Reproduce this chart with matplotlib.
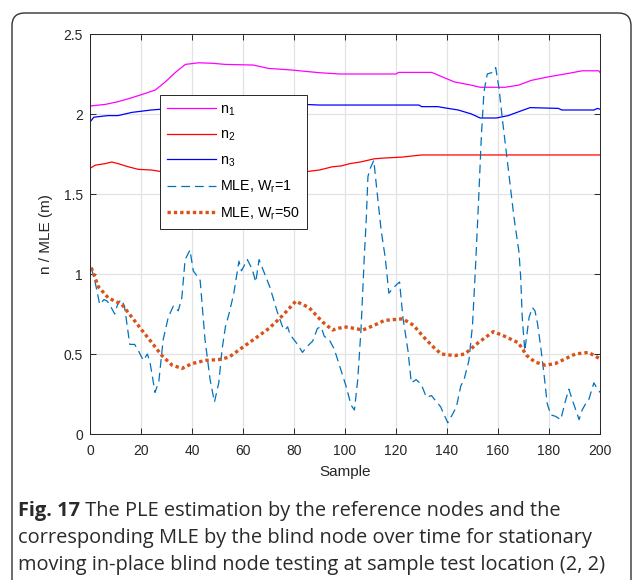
import matplotlib
matplotlib.use("Agg")
import matplotlib.pyplot as plt
from matplotlib.patches import FancyBboxPatch

plt.rcParams['font.family'] = ['Liberation Sans', 'DejaVu Sans']
plt.rcParams['mathtext.fontset'] = 'custom'
plt.rcParams['mathtext.rm'] = 'Liberation Sans'
plt.rcParams['mathtext.it'] = 'Liberation Sans'
plt.rcParams['mathtext.default'] = 'regular'

# ---------------- data ----------------
n1_x = [0, 6, 11, 16, 20, 25.6, 29.5, 33.5, 37.4, 42.6, 48, 53, 64, 70, 79, 90, 98, 120, 121,
        134, 138, 143, 149.6, 153, 162.7, 168, 173, 180, 187.7, 193, 199.5, 200]
n1_y = [2.05, 2.06, 2.077, 2.10, 2.12, 2.15, 2.20, 2.26, 2.31, 2.32, 2.317, 2.31, 2.306, 2.285,
        2.275, 2.258, 2.25, 2.25, 2.26, 2.26, 2.233, 2.20, 2.18, 2.167, 2.167, 2.18, 2.21, 2.233,
        2.254, 2.27, 2.27, 2.26]

n2_x = [0, 2, 6, 8.5, 11, 15, 19, 24, 28, 40, 60, 80, 85, 90, 95, 98.4, 102, 106, 111.5, 115.5,
        122, 130, 200]
n2_y = [1.66, 1.68, 1.69, 1.70, 1.69, 1.67, 1.654, 1.65, 1.64, 1.635, 1.635, 1.635, 1.64, 1.65,
        1.67, 1.675, 1.69, 1.70, 1.72, 1.725, 1.73, 1.744, 1.744]

n3_x = [0, 1.5, 7, 11, 16.4, 24, 28, 40, 60, 84, 90, 98, 129, 130, 136.5, 138.5, 144.4, 149.6,
        153, 159.4, 164, 170, 172.6, 183.7, 185, 197.6, 199, 200]
n3_y = [1.95, 1.98, 1.99, 1.99, 2.01, 2.025, 2.03, 2.05, 2.055, 2.06, 2.056, 2.056, 2.056, 2.046,
        2.046, 2.04, 2.025, 2.0, 1.975, 1.975, 1.99, 2.025, 2.04, 2.035, 2.025, 2.025, 2.035, 2.03]

mle1_x = [0.5, 2, 3.8, 5.5, 6.8, 8, 9.7, 11, 12.3, 13.5, 15.6, 17.5, 19, 20.9, 22.5, 23.5, 25.5,
          27, 28.7, 30.7, 32.7, 34.6, 36, 37.3, 39.2, 40.5, 43.2, 45.1, 47.1, 48.8, 50.5, 51.8,
          53.1, 54.5, 56.4, 58.4, 59.4, 61.7, 63.6, 65, 66.3, 68.5, 70.5, 72.2, 73.5, 75.5, 76.5,
          77.5, 78.5, 81.4, 83.3, 85.3, 87.3, 89.2, 90.6, 91.9, 93.8, 95.8, 97.8, 100.4, 102.4,
          103.7, 105, 106.3, 107.6, 108.3, 109, 109.9, 111.3, 112.2, 114.2, 115.8, 117.2, 118.7,
          120, 121.4, 122.7, 124.7, 126, 127.9, 129.9, 131.9, 133.9, 136.5, 137.5, 140.3, 142.4,
          143.7, 145.4, 146.7, 148.6, 150, 151.2, 152.5, 153.5, 154.5, 155.8, 157.8, 159.1, 160.4,
          161.7, 163.7, 165, 166.3, 168.2, 168.9, 169.5, 170.5, 172.2, 173.5, 174.5, 175.5, 176.7,
          178, 179.3, 180.7, 182.6, 184.6, 186.5, 187.8, 189.2, 190.5, 191.8, 193, 194.4, 195.5,
          197.6, 199, 200]
mle1_y = [1.04, 0.95, 0.81, 0.84, 0.83, 0.80, 0.75, 0.82, 0.84, 0.80, 0.56, 0.56, 0.52, 0.46,
          0.50, 0.45, 0.26, 0.33, 0.59, 0.73, 0.80, 0.77, 0.85, 1.09, 1.15, 1.02, 0.96, 0.59, 0.34,
          0.20, 0.32, 0.53, 0.67, 0.75, 0.88, 1.08, 1.02, 1.09, 1.03, 0.95, 1.09, 1.00, 0.92, 0.83,
          0.76, 0.67, 0.65, 0.67, 0.62, 0.56, 0.51, 0.55, 0.58, 0.66, 0.67, 0.61, 0.59, 0.53, 0.43,
          0.30, 0.18, 0.15, 0.34, 0.66, 1.12, 1.33, 1.61, 1.66, 1.71, 1.57, 1.27, 1.10, 0.88, 0.91,
          0.93, 0.95, 0.73, 0.52, 0.32, 0.34, 0.31, 0.23, 0.24, 0.19, 0.17, 0.07, 0.13, 0.17, 0.30,
          0.34, 0.46, 0.68, 1.05, 1.50, 1.87, 2.14, 2.25, 2.26, 2.29, 2.16, 1.97, 1.70, 1.52, 1.35,
          1.14, 0.98, 0.73, 0.52, 0.73, 0.79, 0.77, 0.69, 0.55, 0.38, 0.19, 0.12, 0.11, 0.09, 0.21,
          0.28, 0.21, 0.15, 0.09, 0.15, 0.19, 0.21, 0.32, 0.28, 0.26]

mle50_x = [0.5, 3.3, 7.2, 12.5, 16.4, 20.3, 24.3, 28.2, 32.2, 36.1, 40, 45.3, 50.5, 54.5, 59.7, 65,
           70.2, 75.5, 80.7, 85.9, 91.2, 95.1, 99.7, 103.7, 107, 111.5, 115.5, 122.7, 126.8,
           131.2, 135.2, 137.8, 143, 147, 152.2, 158.2, 162.7, 168, 171.3, 174.5, 178.5, 182.4,
           186.4, 190.3, 195.5, 200]
mle50_y = [1.04, 0.92, 0.85, 0.81, 0.73, 0.65, 0.57, 0.49, 0.43, 0.41, 0.44, 0.46, 0.465, 0.48,
           0.54, 0.60, 0.66, 0.74, 0.83, 0.79, 0.70, 0.65, 0.67, 0.66, 0.65, 0.68, 0.71, 0.72, 0.68,
           0.60, 0.535, 0.50, 0.49, 0.50, 0.57, 0.64, 0.61, 0.57, 0.49, 0.45, 0.43, 0.44, 0.47,
           0.50, 0.51, 0.47]

x_ticks = [0, 20, 40, 60, 80, 100, 120, 140, 160, 180, 200]
y_ticks = [0, 0.5, 1, 1.5, 2, 2.5]
y_tick_labels = ['0', '0.5', '1', '1.5', '2', '2.5']
legend_labels = ['n$_1$', 'n$_2$', 'n$_3$', 'MLE, W$_r$=1', 'MLE, W$_r$=50']
caption_bold = 'Fig. 17'
caption_rest = (' The PLE estimation by the reference nodes and the',
                'corresponding MLE by the blind node over time for stationary',
                'moving in-place blind node testing at sample test location (2, 2)')

# ---------------- figure ----------------
fig = plt.figure(figsize=(6.34, 5.8), dpi=100)

# rounded border box (continues below bottom edge)
border = FancyBboxPatch((12 / 634, -0.05), 619 / 634, (580 - 13) / 580 + 0.05,
                        boxstyle='round,pad=0,rounding_size=0.02',
                        transform=fig.transFigure, fill=False,
                        edgecolor='#333333', linewidth=1.0, mutation_aspect=634 / 580)
fig.patches.append(border)

ax = fig.add_axes([90 / 634, 146 / 580, 510 / 634, 400 / 580])

ax.plot(n1_x, n1_y, color='#FF00FF', lw=0.9, label=legend_labels[0])
ax.plot(n2_x, n2_y, color='#FF0000', lw=0.9, label=legend_labels[1])
ax.plot(n3_x, n3_y, color='#0000FF', lw=0.9, label=legend_labels[2])
ax.plot(mle1_x, mle1_y, color='#0072BD', lw=0.9, dashes=(7, 4), label=legend_labels[3])
ax.plot(mle50_x, mle50_y, color='#D95319', lw=2.4, dashes=(1, 0.9), label=legend_labels[4])

ax.set_xlim(0, 200)
ax.set_ylim(0, 2.5)
ax.set_xticks(x_ticks)
ax.set_yticks(y_ticks)
ax.set_yticklabels(y_tick_labels)
ax.grid(True, color='#E3E3E3', lw=0.9)
ax.set_axisbelow(True)
ax.tick_params(direction='in', top=True, right=True, length=4, width=0.7,
               labelsize=10, colors='#262626', pad=5)
ax.tick_params(axis='x', pad=7)
for s in ax.spines.values():
    s.set_color('#262626')
    s.set_linewidth(0.7)
ax.set_xlabel('Sample', fontsize=11, color='#262626', labelpad=5)
ax.set_ylabel('n / MLE (m)', fontsize=11, color='#262626', labelpad=8)

leg = ax.legend(loc='upper left', bbox_to_anchor=(0.137, 0.8475), fontsize=10.3,
                frameon=True, fancybox=False, framealpha=1, edgecolor='#262626',
                handlelength=3.4, handletextpad=0.3, labelspacing=0.71,
                borderpad=0.5, borderaxespad=0)
leg.get_frame().set_linewidth(0.7)

# caption
cap_font = ['Open Sans', 'DejaVu Sans']
cap_size = 14.4
cap_color = '#2a2a2a'
t0 = fig.text(18 / 634, 1 - 511 / 580, caption_bold, fontsize=cap_size, fontweight='bold',
              family=cap_font, color=cap_color, va='center')
ax.annotate(caption_rest[0], xy=(1, 0), xycoords=t0, va='bottom', ha='left',
            fontsize=cap_size, family=cap_font, color=cap_color, annotation_clip=False)
fig.text(18 / 634, 1 - 538 / 580, caption_rest[1], fontsize=cap_size, family=cap_font,
         color=cap_color, va='center')
fig.text(18 / 634, 1 - 565 / 580, caption_rest[2], fontsize=cap_size, family=cap_font,
         color=cap_color, va='center')

fig.savefig('out.png', dpi=100)
